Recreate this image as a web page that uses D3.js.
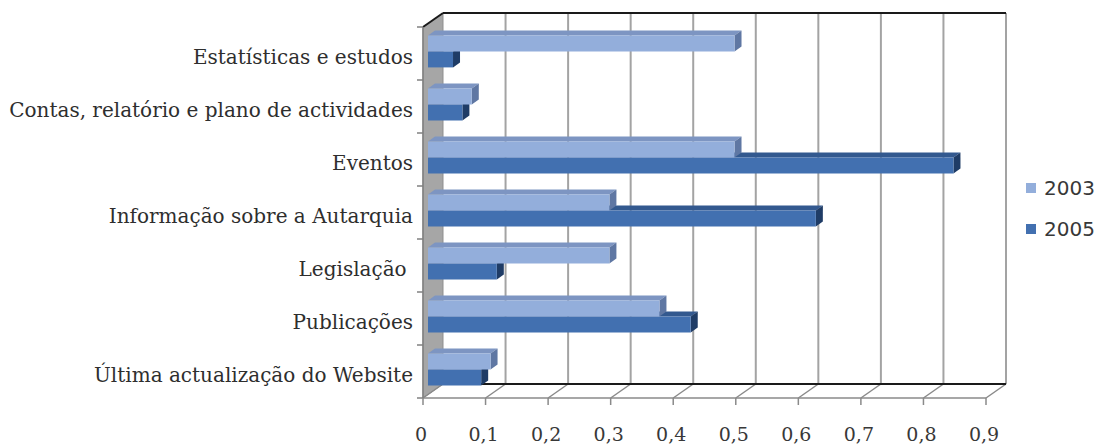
<!DOCTYPE html>
<html>
<head>
<meta charset="utf-8">
<script src="https://cdn.jsdelivr.net/npm/d3@7"></script>
<style>
  html, body { margin: 0; padding: 0; background: #fff; }
  svg { display: block; }
  .cat { white-space: pre; }
</style>
</head>
<body>
<svg id="chart" width="1102" height="445"></svg>
<script>
// Categories, top to bottom
const categories = [
  "Estatísticas e estudos",
  "Contas, relatório e plano de actividades",
  "Eventos",
  "Informação sobre a Autarquia",
  "Legislação ",
  "Publicações",
  "Última actualização do Website"
];
const seriesNames = ["2003", "2005"];
const values2003 = [0.49, 0.07, 0.49, 0.29, 0.29, 0.37, 0.10];
const values2005 = [0.04, 0.055, 0.84, 0.62, 0.11, 0.42, 0.085];
const tickValues = [0, 0.1, 0.2, 0.3, 0.4, 0.5, 0.6, 0.7, 0.8, 0.9];

const svg = d3.select("#chart");

// Oblique 3D frame: front plane + depth vector
const plotTop = 27, plotBottom = 398;
const DX = 20, DY = -14;           // full depth of the box
const barOff = { x: 5, y: -2 };    // front face of the bars inside the box
const barDepth = { x: 7, y: -5 };  // depth of each bar

const x = d3.scaleLinear().domain([0, 0.9]).range([423, 986]);
const y = d3.scaleBand().domain(categories).range([plotTop, plotBottom])
  .paddingInner(0.4).paddingOuter(0.2);
const ySub = d3.scaleBand().domain(seriesNames).range([0, y.bandwidth()]);
const step = y.step();

const fmt = d3.formatLocale({ decimal: ",", thousands: ".", grouping: [3], currency: ["", "€"] }).format("");

const colors = {
  "2003": { front: "#93aedb", top: "#7d95c2", side: "#5f77a3" },
  "2005": { front: "#4270b0", top: "#33598f", side: "#1f3c66" }
};

const g = svg.append("g");

// Left side wall
g.append("polygon")
  .attr("points", [[x(0), plotTop], [x(0) + DX, plotTop + DY], [x(0) + DX, plotBottom + DY], [x(0), plotBottom]].join(" "))
  .attr("fill", "#a6a6a6").attr("stroke", "#8f8f8f").attr("stroke-width", 1);

// Back wall gridlines
g.selectAll("line.grid").data(tickValues.slice(1)).join("line")
  .attr("class", "grid")
  .attr("x1", d => x(d) + DX).attr("x2", d => x(d) + DX)
  .attr("y1", plotTop + DY).attr("y2", plotBottom + DY)
  .attr("stroke", "#a3a3a3").attr("stroke-width", 2);

// Floor: diagonals, front edge, back edge
g.selectAll("line.floorDiag").data(tickValues).join("line")
  .attr("class", "floorDiag")
  .attr("x1", d => x(d)).attr("y1", plotBottom)
  .attr("x2", d => x(d) + DX).attr("y2", plotBottom + DY)
  .attr("stroke", "#8a8a8a").attr("stroke-width", 1.5);
g.append("line")
  .attr("x1", x(0)).attr("x2", x(0.9)).attr("y1", plotBottom).attr("y2", plotBottom)
  .attr("stroke", "#8a8a8a").attr("stroke-width", 1.5);
g.append("line")
  .attr("x1", x(0) + DX).attr("x2", x(0.9) + DX).attr("y1", plotBottom + DY).attr("y2", plotBottom + DY)
  .attr("stroke", "#1a1a1a").attr("stroke-width", 2);

// Top edges
g.append("line")
  .attr("x1", x(0) + DX).attr("x2", x(0.9) + DX).attr("y1", plotTop + DY).attr("y2", plotTop + DY)
  .attr("stroke", "#1a1a1a").attr("stroke-width", 2);
g.append("line")
  .attr("x1", x(0)).attr("y1", plotTop).attr("x2", x(0) + DX).attr("y2", plotTop + DY)
  .attr("stroke", "#1a1a1a").attr("stroke-width", 2);

// Vertical category axis line and ticks
g.append("line")
  .attr("x1", x(0)).attr("x2", x(0)).attr("y1", plotTop).attr("y2", plotBottom)
  .attr("stroke", "#808080").attr("stroke-width", 1.5);
g.selectAll("line.catTick").data(d3.range(categories.length + 1)).join("line")
  .attr("class", "catTick")
  .attr("x1", x(0) - 6).attr("x2", x(0))
  .attr("y1", i => plotTop + i * step).attr("y2", i => plotTop + i * step)
  .attr("stroke", "#808080").attr("stroke-width", 1.5);

// Value axis ticks and labels
g.selectAll("line.valTick").data(tickValues).join("line")
  .attr("class", "valTick")
  .attr("x1", d => x(d)).attr("x2", d => x(d))
  .attr("y1", plotBottom).attr("y2", plotBottom + 7)
  .attr("stroke", "#8a8a8a").attr("stroke-width", 1.5);
g.selectAll("text.valLabel").data(tickValues).join("text")
  .attr("class", "valLabel")
  .attr("x", d => x(d) - 2).attr("y", 441)
  .attr("text-anchor", "middle")
  .attr("font-family", "DejaVu Serif").attr("font-size", 19)
  .attr("fill", "#383838")
  .text(d => fmt(d));

// Category labels
g.selectAll("text.cat").data(categories).join("text")
  .attr("class", "cat")
  .attr("x", 413).attr("y", d => y(d) - y.paddingOuter() * step + step / 2 + 3.5)
  .attr("dy", "0.35em")
  .attr("text-anchor", "end")
  .attr("font-family", "DejaVu Serif").attr("font-size", 20)
  .attr("fill", "#2e2e2e")
  .text(d => d);

// 3D bars: 2005 drawn first so the 2003 bar above covers its top face
const rows = categories.map((c, i) => ({ cat: c, "2003": values2003[i], "2005": values2005[i] }));
const drawOrder = ["2005", "2003"];

function barShapes(cat, s, v) {
  const x0 = x(0) + barOff.x, x1 = x(v) + barOff.x;
  const y0 = y(cat) + ySub(s) + barOff.y, h = ySub.bandwidth();
  const dx = barDepth.x, dy = barDepth.y;
  return {
    front: [[x0, y0], [x1, y0], [x1, y0 + h], [x0, y0 + h]],
    top: [[x0, y0], [x0 + dx, y0 + dy], [x1 + dx, y0 + dy], [x1, y0]],
    side: [[x1, y0], [x1 + dx, y0 + dy], [x1 + dx, y0 + h + dy], [x1, y0 + h]]
  };
}

const barsG = g.append("g");
rows.forEach(r => {
  drawOrder.forEach(s => {
    const sh = barShapes(r.cat, s, r[s]);
    const bg = barsG.append("g");
    bg.append("polygon").attr("points", sh.top.join(" ")).attr("fill", colors[s].top);
    bg.append("polygon").attr("points", sh.side.join(" ")).attr("fill", colors[s].side);
    bg.append("polygon").attr("points", sh.front.join(" ")).attr("fill", colors[s].front);
  });
});

// Legend
const legend = svg.append("g").attr("transform", "translate(1026,0)");
seriesNames.forEach((s, i) => {
  const cy = 188 + i * 41;
  legend.append("rect").attr("x", 0).attr("y", cy - 5).attr("width", 10).attr("height", 10)
    .attr("fill", colors[s].front);
  legend.append("text").attr("x", 18).attr("y", cy).attr("dy", "0.35em")
    .attr("font-family", "DejaVu Sans").attr("font-size", 20).attr("fill", "#383838")
    .text(s);
});
</script>
</body>
</html>
